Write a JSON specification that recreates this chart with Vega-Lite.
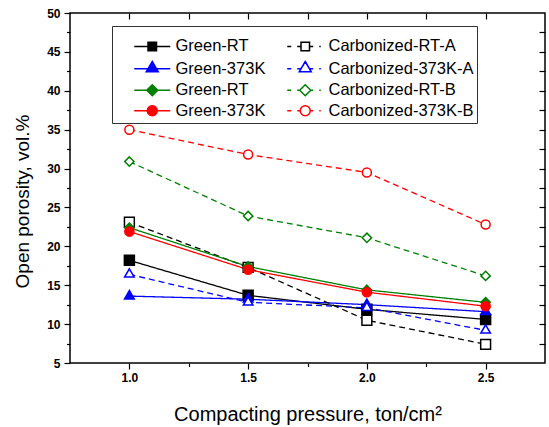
{
  "$schema": "https://vega.github.io/schema/vega-lite/v6.json",
  "width": 475,
  "height": 350,
  "autosize": {"type": "none"},
  "padding": {"left": 70, "top": 13, "right": 4, "bottom": 64},
  "background": "white",
  "config": {
    "view": {"stroke": "black", "strokeWidth": 1.5},
    "font": "Liberation Sans",
    "axis": {"grid": false, "domain": false, "tickColor": "black", "tickWidth": 1.2, "labelColor": "black", "titleColor": "black", "labelFont": "Liberation Sans", "titleFont": "Liberation Sans"}
  },
  "data": {
    "values": [
      {"series": "G1", "p": 1.0, "v": 18.2}, {"series": "G1", "p": 1.5, "v": 13.7}, {"series": "G1", "p": 2.0, "v": 11.9}, {"series": "G1", "p": 2.5, "v": 10.6},
      {"series": "G2", "p": 1.0, "v": 13.6}, {"series": "G2", "p": 1.5, "v": 13.2}, {"series": "G2", "p": 2.0, "v": 12.5}, {"series": "G2", "p": 2.5, "v": 11.6},
      {"series": "C2", "p": 1.0, "v": 16.4}, {"series": "C2", "p": 1.5, "v": 12.8}, {"series": "C2", "p": 2.0, "v": 12.1}, {"series": "C2", "p": 2.5, "v": 9.2},
      {"series": "C1", "p": 1.0, "v": 23.1}, {"series": "C1", "p": 1.5, "v": 17.3}, {"series": "C1", "p": 2.0, "v": 10.5}, {"series": "C1", "p": 2.5, "v": 7.4},
      {"series": "G3", "p": 1.0, "v": 22.4}, {"series": "G3", "p": 1.5, "v": 17.4}, {"series": "G3", "p": 2.0, "v": 14.4}, {"series": "G3", "p": 2.5, "v": 12.8},
      {"series": "G4", "p": 1.0, "v": 21.9}, {"series": "G4", "p": 1.5, "v": 17.0}, {"series": "G4", "p": 2.0, "v": 14.1}, {"series": "G4", "p": 2.5, "v": 12.3},
      {"series": "C3", "p": 1.0, "v": 30.9}, {"series": "C3", "p": 1.5, "v": 23.9}, {"series": "C3", "p": 2.0, "v": 21.1}, {"series": "C3", "p": 2.5, "v": 16.2},
      {"series": "C4", "p": 1.0, "v": 35.0}, {"series": "C4", "p": 1.5, "v": 31.8}, {"series": "C4", "p": 2.0, "v": 29.5}, {"series": "C4", "p": 2.5, "v": 22.8}
    ]
  },
  "layer": [
    {
      "mark": {"type": "line", "strokeWidth": 1.3},
      "encoding": {
        "x": {"field": "p", "type": "quantitative", "scale": {"domain": [0.75, 2.75], "nice": false, "zero": false},
          "axis": {"orient": "bottom", "values": [1, 1.25, 1.5, 1.75, 2, 2.25, 2.5], "labelExpr": "datum.value % 0.5 == 0 ? format(datum.value, '.1f') : ''", "tickSize": {"condition": {"test": "datum.value % 0.5 != 0", "value": 3.5}, "value": 6}, "labelFontSize": 12, "labelFontWeight": "bold", "labelPadding": 3, "title": "Compacting pressure, ton/cm²", "titleFontSize": 20, "titleFontWeight": "normal", "titleBaseline": "alphabetic", "titleY": 57}},
        "y": {"field": "v", "type": "quantitative", "scale": {"domain": [5, 50], "nice": false, "zero": false},
          "axis": {"orient": "left", "values": [5, 7.5, 10, 12.5, 15, 17.5, 20, 22.5, 25, 27.5, 30, 32.5, 35, 37.5, 40, 42.5, 45, 47.5, 50], "labelExpr": "datum.value % 5 == 0 ? datum.label : ''", "tickSize": {"condition": {"test": "datum.value % 5 != 0", "value": 3.5}, "value": 6}, "labelFontSize": 12, "labelFontWeight": "bold", "labelPadding": 4, "title": "Open porosity, vol.%", "titleFontSize": 19, "titleFontWeight": "normal", "titleBaseline": "alphabetic", "titleAngle": -90, "titleAlign": "center", "titleX": -42, "titleY": 188}},
        "color": {"field": "series", "type": "nominal", "scale": {"domain": ["G1", "C1", "G2", "C2", "G3", "C3", "G4", "C4"], "range": ["#000000", "#000000", "#0000ff", "#0000ff", "#008000", "#008000", "#ff0000", "#ff0000"]}, "legend": null},
        "strokeDash": {"field": "series", "type": "nominal", "scale": {"domain": ["G1", "C1", "G2", "C2", "G3", "C3", "G4", "C4"], "range": [[1, 0], [6, 4], [1, 0], [6, 4], [1, 0], [6, 4], [1, 0], [6, 4]]}, "legend": null}
      }
    },
    {
      "mark": {"type": "point", "opacity": 1, "strokeWidth": 1.5},
      "encoding": {
        "x": {"field": "p", "type": "quantitative", "scale": {"domain": [0.75, 2.75], "nice": false, "zero": false},
          "axis": {"orient": "top", "values": [1, 1.25, 1.5, 1.75, 2, 2.25, 2.5], "tickSize": 6, "offset": -6, "labels": false, "title": null}},
        "y": {"field": "v", "type": "quantitative", "scale": {"domain": [5, 50], "nice": false, "zero": false},
          "axis": {"orient": "right", "values": [7.5, 10, 12.5, 15, 17.5, 20, 22.5, 25, 27.5, 30, 32.5, 35, 37.5, 40, 42.5, 45, 47.5], "tickSize": 6, "offset": -6, "labels": false, "title": null}},
        "shape": {"field": "series", "type": "nominal", "scale": {"domain": ["G1", "C1", "G2", "C2", "G3", "C3", "G4", "C4"], "range": ["square", "square", "M0,-1.155L1,0.577L-1,0.577Z", "M0,-1.155L1,0.577L-1,0.577Z", "M0,-1L1,0L0,1L-1,0Z", "M0,-1L1,0L0,1L-1,0Z", "circle", "circle"]}, "legend": null},
        "fill": {"field": "series", "type": "nominal", "scale": {"domain": ["G1", "C1", "G2", "C2", "G3", "C3", "G4", "C4"], "range": ["#000000", "#ffffff", "#0000ff", "#ffffff", "#008000", "#ffffff", "#ff0000", "#ffffff"]}, "legend": null},
        "stroke": {"field": "series", "type": "nominal", "scale": {"domain": ["G1", "C1", "G2", "C2", "G3", "C3", "G4", "C4"], "range": ["#000000", "#000000", "#0000ff", "#0000ff", "#008000", "#008000", "#ff0000", "#ff0000"]}, "legend": null},
        "size": {"field": "series", "type": "nominal", "scale": {"domain": ["G1", "C1", "G2", "C2", "G3", "C3", "G4", "C4"], "range": [100, 81, 169, 169, 144, 196, 144, 121]}, "legend": null}
      }
    },
    {
      "transform": [{"filter": "false"}],
      "mark": {"type": "point", "filled": true, "opacity": 1, "strokeWidth": 1.5},
      "encoding": {
        "x": {"field": "p", "type": "quantitative", "scale": {"domain": [0.75, 2.75], "nice": false, "zero": false}, "axis": null},
        "y": {"field": "v", "type": "quantitative", "scale": {"domain": [5, 50], "nice": false, "zero": false}, "axis": null},
        "shape": {"field": "series", "type": "nominal",
          "scale": {"domain": ["G1", "G2", "G3", "G4", "C1", "C2", "C3", "C4"], "range": [
            "M-3.6,0H3.6M-0.85,-0.85H0.85V0.85H-0.85Z",
            "M-3.6,0H3.6M0,-1.45L1.2,0.6L-1.2,0.6Z",
            "M-3.6,0H3.6M0,-1.1L1.1,0L0,1.1L-1.1,0Z",
            "M-3.6,0H3.6M1,0C1,0.552,0.552,1,0,1C-0.552,1,-1,0.552,-1,0C-1,-0.552,-0.552,-1,0,-1C0.552,-1,1,-0.552,1,0Z",
            "M-3.6,0H-2.8M-1.6,0H-0.85M0.85,0H1.6M2.8,0H3.1M-0.85,-0.85H0.85V0.85H-0.85Z",
            "M-3.6,0H-2.8M-1.6,0H-1M1,0H1.6M2.8,0H3.1M0,-1.45L1.2,0.6L-1.2,0.6Z",
            "M-3.6,0H-2.8M-1.6,0H-1.1M1.1,0H1.6M2.8,0H3.1M0,-1.1L1.1,0L0,1.1L-1.1,0Z",
            "M-3.6,0H-2.8M-1.6,0H-1M1,0H1.6M2.8,0H3.1M1,0C1,0.552,0.552,1,0,1C-0.552,1,-1,0.552,-1,0C-1,-0.552,-0.552,-1,0,-1C0.552,-1,1,-0.552,1,0Z"
          ]},
          "legend": {
            "orient": "none", "legendX": 42, "legendY": 13, "columns": 2,
            "title": " ", "titleFontSize": 6, "titlePadding": 3,
            "padding": 3, "rowPadding": 3.5, "columnPadding": 2,
            "symbolSize": 100, "symbolStrokeWidth": 1.5, "symbolOffset": 29, "labelOffset": 15,
            "labelFont": "Liberation Sans", "labelFontSize": 16.5, "labelColor": "black", "labelLimit": 300,
            "strokeColor": "#333333", "fillColor": "white",
            "labelExpr": "['Green-RT','Carbonized-RT-A ','Green-373K','Carbonized-373K-A ','Green-RT','Carbonized-RT-B ','Green-373K','Carbonized-373K-B '][indexof(['G1','C1','G2','C2','G3','C3','G4','C4'],datum.value)]"
          }},
        "fill": {"field": "series", "type": "nominal", "scale": {"domain": ["G1", "G2", "G3", "G4", "C1", "C2", "C3", "C4"], "range": ["#000000", "#0000ff", "#008000", "#ff0000", "#ffffff", "#ffffff", "#ffffff", "#ffffff"]}},
        "stroke": {"field": "series", "type": "nominal", "scale": {"domain": ["G1", "G2", "G3", "G4", "C1", "C2", "C3", "C4"], "range": ["#000000", "#0000ff", "#008000", "#ff0000", "#000000", "#0000ff", "#008000", "#ff0000"]}}
      }
    }
  ],
  "resolve": {"axis": {"x": "independent", "y": "independent"}, "scale": {"shape": "independent", "fill": "independent", "stroke": "independent"}}
}
